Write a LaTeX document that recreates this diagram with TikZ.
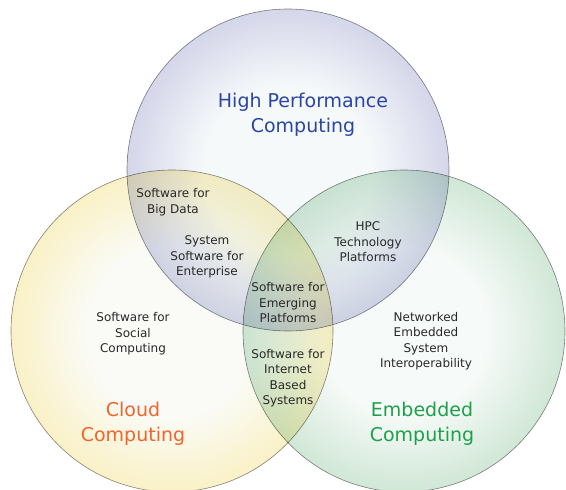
\documentclass[tikz,border=0pt]{standalone}
\usepackage{fontspec}
\setmainfont{DejaVu Sans}
\usepackage{tikz}

\definecolor{hpcblue}{RGB}{42,70,165}
\definecolor{cloudorange}{RGB}{240,100,45}
\definecolor{embgreen}{RGB}{30,160,75}
\definecolor{lblgray}{RGB}{40,40,40}
\definecolor{rimgray}{RGB}{135,135,135}
\definecolor{hpcin}{RGB}{246,249,250}
\definecolor{hpcmid}{RGB}{212,214,234}
\definecolor{hpcrim}{RGB}{158,158,205}
\definecolor{cloudin}{RGB}{250,251,247}
\definecolor{cloudmid}{RGB}{250,241,198}
\definecolor{cloudrim}{RGB}{250,226,135}
\definecolor{embin}{RGB}{246,250,248}
\definecolor{embmid}{RGB}{208,231,214}
\definecolor{embrim}{RGB}{138,194,148}

\pgfdeclareradialshading{hpcshade}{\pgfpoint{0bp}{0bp}}{color(0bp)=(hpcin); color(13bp)=(hpcin); color(25bp)=(hpcmid); color(32bp)=(hpcrim); color(50bp)=(hpcrim)}
\pgfdeclareradialshading{cloudshade}{\pgfpoint{0bp}{0bp}}{color(0bp)=(cloudin); color(13bp)=(cloudin); color(25bp)=(cloudmid); color(32bp)=(cloudrim); color(50bp)=(cloudrim)}
\pgfdeclareradialshading{embshade}{\pgfpoint{0bp}{0bp}}{color(0bp)=(embin); color(13bp)=(embin); color(25bp)=(embmid); color(32bp)=(embrim); color(50bp)=(embrim)}

\begin{document}
\begin{tikzpicture}[x=1pt,y=-1pt,
	blob/.style={circle,inner sep=0pt,minimum size=322pt,draw=rimgray,line width=0.6pt},
	lbl/.style={align=center,text=lblgray,font=\fontsize{12}{15.5}\selectfont},
	ttl/.style={align=center,font=\fontsize{19}{24.5}\selectfont}]
\useasboundingbox (0,0) rectangle (566,490);
\begin{scope}[blend mode=multiply]
\node [blob,shading=hpcshade] (hpc) at (288,170) {};
\node [blob,shading=cloudshade] (cloud) at (172,331) {};
\node [blob,shading=embshade] (emb) at (404,331) {};
\end{scope}

\node [ttl,text=hpcblue] (hpctitle) at (303,115) {High Performance\\Computing};
\node [ttl,text=cloudorange] (cloudtitle) at (133,424) {Cloud\\Computing};
\node [ttl,text=embgreen] (embtitle) at (422,424) {Embedded\\Computing};

\node [lbl] (bigdata) at (173,202) {Software for\\Big Data};
\node [lbl] (enterprise) at (207,257) {System\\Software for\\Enterprise};
\node [lbl] (hpctech) at (368,242) {HPC\\Technology\\Platforms};
\node [lbl] (emerging) at (288,303) {Software for\\Emerging\\Platforms};
\node [lbl] (internet) at (288,378) {Software for\\Internet\\Based\\Systems};
\node [lbl] (social) at (133,334) {Software for\\Social\\Computing};
\node [lbl] (networked) at (426,341) {Networked\\Embedded\\System\\Interoperability};
\end{tikzpicture}
\end{document}
